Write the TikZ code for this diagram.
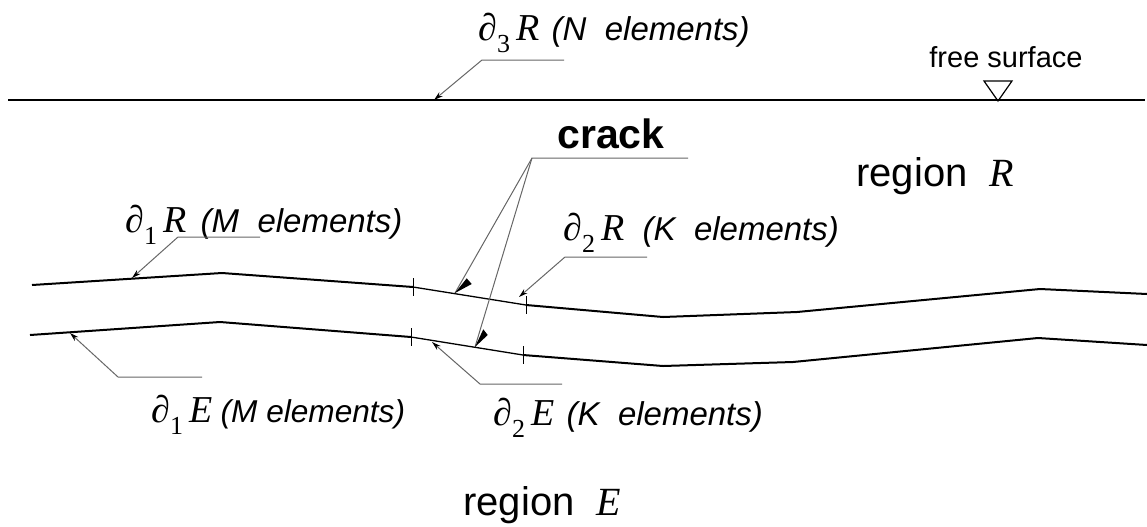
\documentclass[tikz,border=0pt]{standalone}
\usepackage{fontspec}
\setmainfont{Liberation Sans}
\newfontfamily\tnr{Liberation Serif}
\usetikzlibrary{arrows.meta}
\newcommand{\bdry}[2]{{\tnr\fontsize{19}{22}\selectfont\upshape ∂\raisebox{-0.32em}{\fontsize{13}{15}\selectfont #1}\,\textit{#2}}}
\begin{document}
\begin{tikzpicture}[x=0.5pt,y=-0.5pt,
  curve/.style={line width=1pt, line join=round},
  crackseg/.style={line width=0.65pt},
  tickmark/.style={line width=0.45pt},
  leader/.style={draw=black!60, line width=0.5pt},
  smallarrow/.style={leader, -{Stealth[length=4.5pt,width=2.6pt,color=black]}},
  lab/.style={inner sep=0pt, anchor=base west, font=\fontsize{16.5}{19}\selectfont\itshape},
  big/.style={inner sep=0pt, anchor=base west, font=\fontsize{20}{24}\selectfont}]
\useasboundingbox (0,0) rectangle (1147,526);
% free surface line
\coordinate (S0) at (8,100);
\coordinate (S1) at (1145,100);
\draw[line width=1.25pt] (S0) -- (S1);
\coordinate (fs) at (998,101);
\draw[line width=0.6pt, line join=miter] (fs) -- ++(-14,-20) -- ++(28,0) -- cycle;
\node[inner sep=0pt, anchor=base west, font=\fontsize{14.5}{17}\selectfont] (fstext) at (929,67) {free surface};
% upper boundary
\coordinate (U0) at (32,285);
\coordinate (U1) at (222,273);
\coordinate (U2) at (413,287);
\coordinate (U3) at (526,305);
\coordinate (U4) at (663,317);
\coordinate (U5) at (797,312);
\coordinate (U6) at (1040,289);
\coordinate (U7) at (1147,294);
% lower boundary
\coordinate (L0) at (30,335);
\coordinate (L1) at (220,322);
\coordinate (L2) at (411,337);
\coordinate (L3) at (523,355);
\coordinate (L4) at (663,366);
\coordinate (L5) at (793,362);
\coordinate (L6) at (1038,338);
\coordinate (L7) at (1147,345);
\draw[curve] (U0) -- (U1) -- (U2);
\draw[crackseg] (U2) -- (U3);
\draw[curve] (U3) -- (U4) -- (U5) -- (U6) -- (U7);
\draw[curve] (L0) -- (L1) -- (L2);
\draw[crackseg] (L2) -- (L3);
\draw[curve] (L3) -- (L4) -- (L5) -- (L6) -- (L7);
\foreach \p in {U2,U3,L2,L3} \draw[tickmark] (\p) ++(0,-9) -- ++(0,18);
% labels
\node[lab] (l3) at (478,40) {\bdry{3}{R}\hspace{6pt}(N\ \ elements)};
\node[lab] (l1r) at (125,232) {\bdry{1}{R}\hspace{7pt}(M\ \ elements)};
\node[lab] (l2r) at (563,240) {\bdry{2}{R}\hspace{9pt}(K\ \ elements)};
\node[lab, font=\fontsize{15.8}{19}\selectfont\itshape] (l1e) at (151,422) {\bdry{1}{E}\hspace{4pt}(M elements)};
\node[lab] (l2e) at (493,425) {\bdry{2}{E}\hspace{6pt}(K\ \ elements)};
\node[inner sep=0pt, anchor=base west, font=\fontsize{20.5}{24}\selectfont\bfseries] (crk) at (557,148) {crack};
\node[big] (rr) at (856,186) {region\ \ {\tnr\itshape R}};
\node[big] (re) at (463,515) {region\ \ {\tnr\itshape E}};
% leaders
\coordinate (T3) at (434,100);
\coordinate (K3) at (482,60);
\coordinate (E3) at (564,60);
\draw[smallarrow] (E3) -- (K3) -- (T3);
\coordinate (T1r) at (132,278);
\coordinate (K1r) at (178,237);
\coordinate (E1r) at (260,237);
\draw[smallarrow] (E1r) -- (K1r) -- (T1r);
\coordinate (T2r) at (519,297);
\coordinate (K2r) at (565,257);
\coordinate (E2r) at (647,257);
\draw[smallarrow] (E2r) -- (K2r) -- (T2r);
\coordinate (T1e) at (70,333);
\coordinate (K1e) at (118,377);
\coordinate (E1e) at (202,377);
\draw[smallarrow] (E1e) -- (K1e) -- (T1e);
\coordinate (T2e) at (432,342);
\coordinate (K2e) at (480,384);
\coordinate (E2e) at (562,384);
\draw[smallarrow] (E2e) -- (K2e) -- (T2e);
% crack leader
\coordinate (Kc) at (532,158);
\coordinate (Ec) at (688,158);
\coordinate (A1) at (455,293);
\coordinate (A2) at (475,347);
\draw[leader] (Ec) -- (Kc) -- (A1);
\draw[leader] (Kc) -- (A2);
\fill (A1) -- ++(11.7,-14.7) -- ++(5,5.7) -- cycle;
\fill (A2) -- ++(8.3,-17.7) -- ++(4.4,5.7) -- cycle;
\end{tikzpicture}
\end{document}
